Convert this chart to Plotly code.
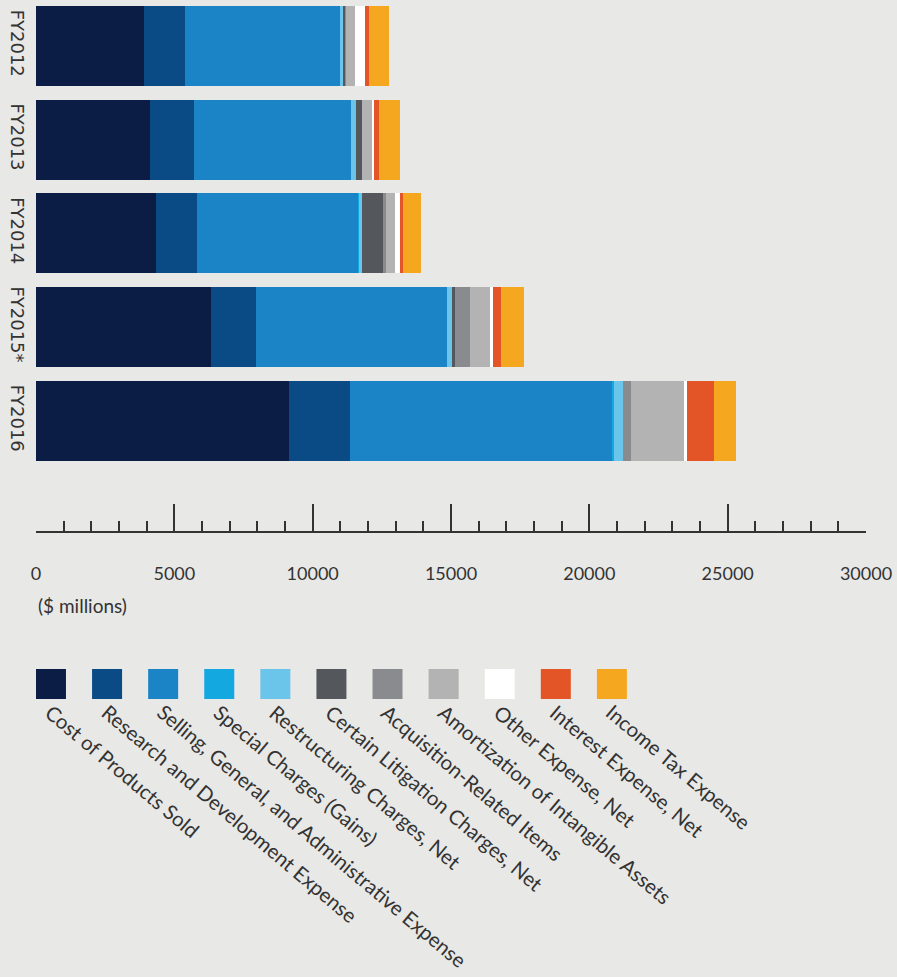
import plotly.graph_objects as go

years = ['FY2012', 'FY2013', 'FY2014', 'FY2015*', 'FY2016']

cost_of_products = [3900, 4120, 4330, 6320, 9140]
research_dev = [1490, 1590, 1480, 1630, 2210]
sga = [5600, 5680, 5840, 6900, 9470]
special_charges = [0, 0, 40, 0, 70]
restructuring = [100, 180, 80, 220, 320]
litigation = [80, 220, 760, 70, 0]
acquisition = [30, 0, 110, 540, 290]
amortization = [330, 360, 350, 730, 1920]
other_expense = [360, 70, 180, 100, 100]
interest_expense = [150, 180, 110, 290, 970]
income_tax = [720, 760, 650, 830, 800]

series_names = ['Cost of Products Sold', 'Research and Development Expense',
                'Selling, General, and Administrative Expense', 'Special Charges (Gains)',
                'Restructuring Charges, Net', 'Certain Litigation Charges, Net',
                'Acquisition-Related Items', 'Amortization of Intangible Assets',
                'Other Expense, Net', 'Interest Expense, Net', 'Income Tax Expense']
series_values = [cost_of_products, research_dev, sga, special_charges, restructuring,
                 litigation, acquisition, amortization, other_expense, interest_expense, income_tax]
plot_colors = ['#0c1d45', '#0a4a85', '#1b84c6', '#13a8e0', '#6bc4ea', '#54575c',
               '#8a8b8e', '#b2b3b2', '#ffffff', '#e35527', '#f5a81f']

bg_color = '#e8e8e6'
text_color = '#333333'
W, H = 897, 977

fig = go.Figure()
for trc_cnt, name in enumerate(series_names):
  fig.add_trace(go.Bar(y=years, x=series_values[trc_cnt], name=name, orientation='h',
                       marker=dict(color=plot_colors[trc_cnt], line=dict(width=0)),
                       showlegend=False))

# legend swatches drawn as a row of square markers on their own axes
fig.add_trace(go.Scatter(x=series_names, y=[0] * len(series_names), mode='markers',
                         marker=dict(symbol='square', size=30, color=plot_colors, line=dict(width=0)),
                         xaxis='x2', yaxis='y2', showlegend=False, hoverinfo='skip'))

annotations = []
for name in series_names:
  annotations.append(dict(x=name, y=0, xref='x2', yref='y2', text=name, showarrow=False,
                          textangle=40, xanchor='left', yanchor='top', xshift=-13, yshift=-13,
                          font=dict(family='Lato', size=20.4, color=text_color)))
annotations.append(dict(x=0, y=1 - 605 / H, xref='paper', yref='paper', text='($ millions)',
                        showarrow=False, xanchor='left', yanchor='middle',
                        font=dict(family='Lato', size=19, color=text_color)))

fig.update_layout(width=W, height=H, barmode='stack', bargap=0.146,
                  paper_bgcolor=bg_color, plot_bgcolor=bg_color,
                  margin=dict(l=36, r=31, t=0, b=0, pad=0),
                  annotations=annotations,
                  xaxis=dict(domain=[0, 1], range=[0, 30000], anchor='y',
                             showgrid=False, zeroline=False, showline=True,
                             linecolor=text_color, linewidth=1.5,
                             tickmode='linear', tick0=0, dtick=5000, tickformat='d',
                             ticks='inside', ticklen=27, tickwidth=1.5, tickcolor=text_color,
                             minor=dict(dtick=1000, ticks='inside', ticklen=10, tickwidth=1.5,
                                        tickcolor=text_color, showgrid=False),
                             ticklabelstandoff=26,
                             tickfont=dict(family='Lato', size=18, color=text_color)),
                  yaxis=dict(domain=[1 - 531 / H, 1], range=[5.174, -0.49], type='category',
                             showgrid=False, zeroline=False, showline=False, ticks='',
                             tickangle=90, ticklabelstandoff=6,
                             tickfont=dict(family='DejaVu Sans', size=18, color=text_color)),
                  xaxis2=dict(domain=[0, 1], anchor='y2', type='category', range=[-0.267, 14.53],
                              visible=False),
                  yaxis2=dict(domain=[0.28, 0.32], anchor='x2', range=[-1, 1], visible=False))

fig.write_html('out.html', config={'displayModeBar': False},
               post_script="document.body.style.margin='0px';")
